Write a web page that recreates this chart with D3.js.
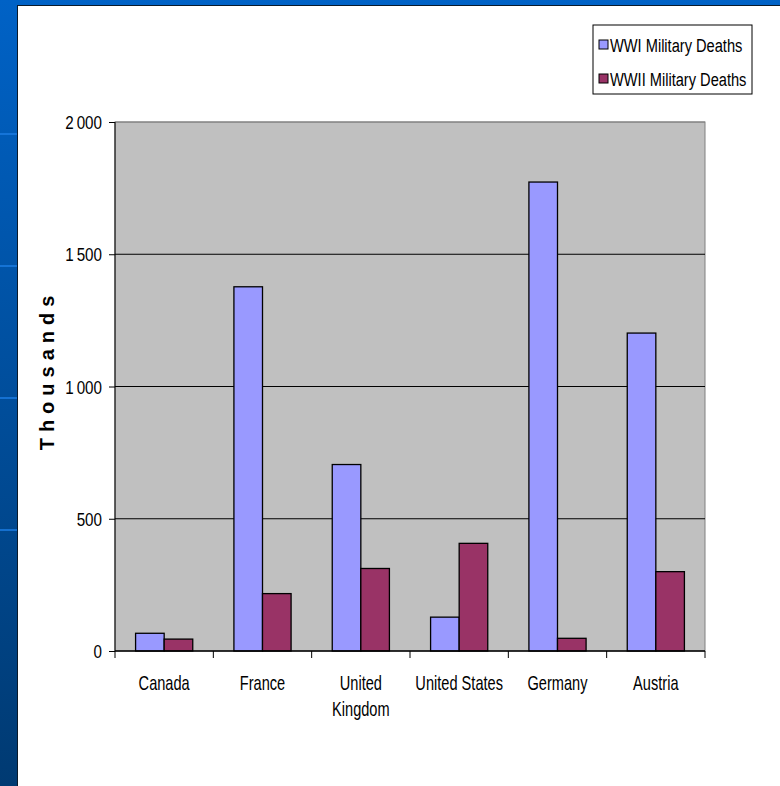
<!DOCTYPE html>
<html>
<head>
<meta charset="utf-8">
<script src="https://cdn.jsdelivr.net/npm/d3@7"></script>
<style>
  body { margin: 0; background: #fff; }
  svg text { font-family: "Liberation Sans", Arial, sans-serif; }
</style>
</head>
<body>
<div id="chart"></div>
<script>
// data (thousands)
var countries = ["Canada", "France", "United Kingdom", "United States", "Germany", "Austria"];
var countryLines = [["Canada"], ["France"], ["United", "Kingdom"], ["United States"], ["Germany"], ["Austria"]];
var seriesNames = ["WWI Military Deaths", "WWII Military Deaths"];
var ww1 = [67, 1377, 705, 128, 1773, 1202];
var ww2 = [45, 217, 312, 407, 48, 300];
var yTicks = [0, 500, 1000, 1500, 2000];
var colors = ["#9999ff", "#993366"];

var width = 780, height = 786;

var svg = d3.select("#chart").append("svg")
  .attr("width", width)
  .attr("height", height);

// the original font is a narrow one, so squeeze the text horizontally
function narrowText(parent, px, py, str, anchor, size, sx) {
  return parent.append("text")
    .attr("transform", "translate(" + px + "," + py + ") scale(" + sx + ",1)")
    .attr("text-anchor", anchor)
    .attr("font-size", size)
    .attr("fill", "#000")
    .text(str);
}

// slide background: blue strip left + top
var grad = svg.append("defs").append("linearGradient")
  .attr("id", "slide").attr("x1", 0).attr("y1", 0).attr("x2", 0).attr("y2", 1);
grad.append("stop").attr("offset", "0%").attr("stop-color", "#0062c6");
grad.append("stop").attr("offset", "100%").attr("stop-color", "#003a72");
svg.append("rect").attr("width", width).attr("height", height).attr("fill", "url(#slide)");
[133, 265, 397, 529].forEach(function(y) {
  svg.append("rect").attr("x", 0).attr("y", y).attr("width", 17).attr("height", 2)
    .attr("fill", "#1a7ae0").attr("opacity", 0.8);
});
svg.append("rect").attr("x", 17).attr("y", 5).attr("width", width - 17).attr("height", height - 5)
  .attr("fill", "#0a1a2a");
svg.append("rect").attr("x", 18).attr("y", 6).attr("width", width - 18).attr("height", height - 6)
  .attr("fill", "#fff");

var plot = { left: 115, right: 705, top: 122, bottom: 651 };

var x = d3.scaleBand().domain(countries).range([plot.left, plot.right]);
var x1 = d3.scaleBand().domain(seriesNames).range([0, x.bandwidth()]).paddingOuter(0.72);
var y = d3.scaleLinear().domain([0, 2000]).range([plot.bottom, plot.top]);

var g = svg.append("g");

g.append("rect")
  .attr("x", plot.left).attr("y", plot.top)
  .attr("width", plot.right - plot.left).attr("height", plot.bottom - plot.top)
  .attr("fill", "#c0c0c0").attr("stroke", "#808080");

// gridlines
g.selectAll(".grid").data(yTicks.slice(1))
  .enter().append("line")
  .attr("x1", plot.left).attr("x2", plot.right)
  .attr("y1", d => y(d)).attr("y2", d => y(d))
  .attr("stroke", d => d === 2000 ? "#808080" : "#000")
  .attr("stroke-width", 1);

// bars
var rows = countries.map(function(c, i) {
  return { country: c, values: [ww1[i], ww2[i]] };
});
var groups = g.selectAll(".grp").data(rows).enter().append("g")
  .attr("transform", d => "translate(" + x(d.country) + ",0)");
groups.selectAll("rect")
  .data(d => d.values.map((v, k) => ({ name: seriesNames[k], v: v, k: k })))
  .enter().append("rect")
  .attr("x", d => x1(d.name))
  .attr("y", d => y(d.v))
  .attr("width", x1.bandwidth())
  .attr("height", d => y(0) - y(d.v))
  .attr("fill", d => colors[d.k])
  .attr("stroke", "#000")
  .attr("stroke-width", 1.3);

// y axis
var yAxis = g.append("g")
  .attr("transform", "translate(" + plot.left + ",0)")
  .call(d3.axisLeft(y).tickValues(yTicks).tickSize(6).tickFormat(""));
yAxis.select(".domain").attr("stroke", "#000").attr("d", "M0," + plot.top + "V" + plot.bottom);
yAxis.selectAll("line").attr("stroke", "#000");
yTicks.forEach(function(t) {
  narrowText(g, plot.left - 13, y(t) + 7, d3.format(",")(t).replace(",", "\u2009"), "end", 19, 0.8);
});

// x axis
var xAxis = g.append("g")
  .attr("transform", "translate(0," + plot.bottom + ")");
xAxis.append("line").attr("x1", plot.left).attr("x2", plot.right)
  .attr("stroke", "#000").attr("stroke-width", 1.5);
var boundaries = countries.map(c => x(c)).concat([plot.right]);
xAxis.selectAll(".tk").data(boundaries).enter().append("line")
  .attr("x1", d => d).attr("x2", d => d)
  .attr("y1", 0).attr("y2", 7)
  .attr("stroke", "#000");
countries.forEach(function(c, i) {
  countryLines[i].forEach(function(line, j) {
    narrowText(xAxis, x(c) + x.bandwidth() / 2, 39 + j * 26, line, "middle", 20, 0.73);
  });
});

// y title
svg.append("text")
  .attr("transform", "translate(54,370) rotate(-90)")
  .attr("text-anchor", "middle")
  .attr("font-size", 20)
  .attr("font-weight", "bold")
  .attr("letter-spacing", 6)
  .attr("fill", "#000")
  .text("Thousands");

// legend
var legend = svg.append("g").attr("transform", "translate(593,25)");
legend.append("rect").attr("width", 159).attr("height", 69)
  .attr("fill", "#fff").attr("stroke", "#000");
seriesNames.forEach(function(name, i) {
  var ly = 21 + i * 34;
  legend.append("rect").attr("x", 6).attr("y", ly - 6).attr("width", 9).attr("height", 9)
    .attr("fill", colors[i]).attr("stroke", "#000");
  narrowText(legend, 17, ly + 6, name, "start", 19, 0.77);
});
</script>
</body>
</html>
